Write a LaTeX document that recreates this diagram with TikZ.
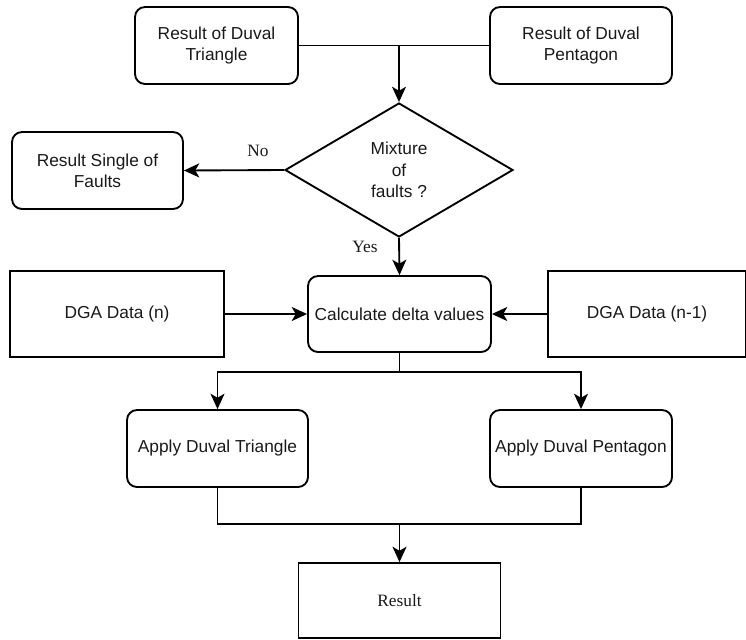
\documentclass[tikz,border=0pt]{standalone}
\usepackage{fontspec}
\setmainfont{Liberation Sans}
\newfontfamily\labelfont{Liberation Serif}
\usepackage{tikz}
\usetikzlibrary{positioning,arrows.meta,shapes.geometric}
\usepackage{xcolor}
\definecolor{flowline}{RGB}{0,0,0}
\definecolor{flowtext}{RGB}{25,25,25}

\begin{document}
\begin{tikzpicture}[x=0.75pt,y=-0.75pt,
  every node/.style={font=\fontsize{13}{16}\selectfont,text=flowtext,align=center},
  roundbox/.style={draw=flowline,line width=1.4pt,rounded corners=7.5pt,inner sep=2pt},
  plainbox/.style={draw=flowline,line width=1.4pt,inner sep=2pt},
  decision/.style={diamond,draw=flowline,line width=1.4pt,inner sep=0pt,minimum width=171pt,minimum height=100.5pt},
  flowarrow/.style={draw=flowline,line width=1.4pt,-{Stealth[length=11.5pt,width=10.5pt,inset=3pt]}},
  joinline/.style={draw=flowline,line width=1.4pt},
  lbl/.style={font=\labelfont\fontsize{13}{16}\selectfont,inner sep=0pt}]
\useasboundingbox (0,0) rectangle (746,639);

% top: results of the two methods
\node[roundbox,minimum width=122.25pt,minimum height=57.75pt] (tri_res) at (216.5,45.5) {Result of Duval\\Triangle};
\node[roundbox,minimum width=136.5pt,minimum height=57.75pt] (pent_res) at (581,45.5) {Result of Duval\\Pentagon};
\coordinate (topjoin) at (399,45.5);

% decision
\node[decision] (mix) at (399,170) {Mixture\\of\\faults ?};
\node[roundbox,minimum width=128.25pt,minimum height=57.75pt] (single) at (97.5,170.5) {Result Single of\\Faults};
\node[lbl] (nolbl) at (258,151) {No};
\node[lbl] (yeslbl) at (365,247) {Yes};

% delta values from the two DGA samples
\node[roundbox,minimum width=137.25pt,minimum height=57pt] (calc) at (399.5,314) {Calculate delta values};
\node[plainbox,minimum width=160.5pt,minimum height=64.5pt] (dga_n) at (117,314) {DGA Data (n)};
\node[plainbox,minimum width=148.5pt,minimum height=64.5pt] (dga_p) at (647,314) {DGA Data (n-1)};

% apply both methods
\coordinate (split) at (399.5,372);
\node[roundbox,minimum width=135.75pt,minimum height=57.75pt] (tri_app) at (217.5,448.5) {Apply Duval Triangle};
\node[roundbox,minimum width=136.5pt,minimum height=57.75pt] (pent_app) at (581,448.5) {Apply Duval Pentagon};
\coordinate (merge) at (399.5,524);
\node[plainbox,minimum width=151.5pt,minimum height=56.25pt] (result) at (399.5,600.5) {\labelfont Result};

% connectors
\draw[joinline] (tri_res.east) -- (pent_res.west);
\draw[flowarrow] (topjoin) -- (mix.north);
\draw[flowarrow] (mix.west) -- (single.east);
\draw[flowarrow] (mix.south) -- (calc.north);
\draw[flowarrow] (dga_n.east) -- (calc.west);
\draw[flowarrow] (dga_p.west) -- (calc.east);
\draw[joinline] (calc.south) -- (split);
\draw[flowarrow] (split) -| (tri_app.north);
\draw[flowarrow] (split) -| (pent_app.north);
\draw[joinline] (tri_app.south) |- (merge) -| (pent_app.south);
\draw[flowarrow] (merge) -- (result.north);
\end{tikzpicture}
\end{document}
